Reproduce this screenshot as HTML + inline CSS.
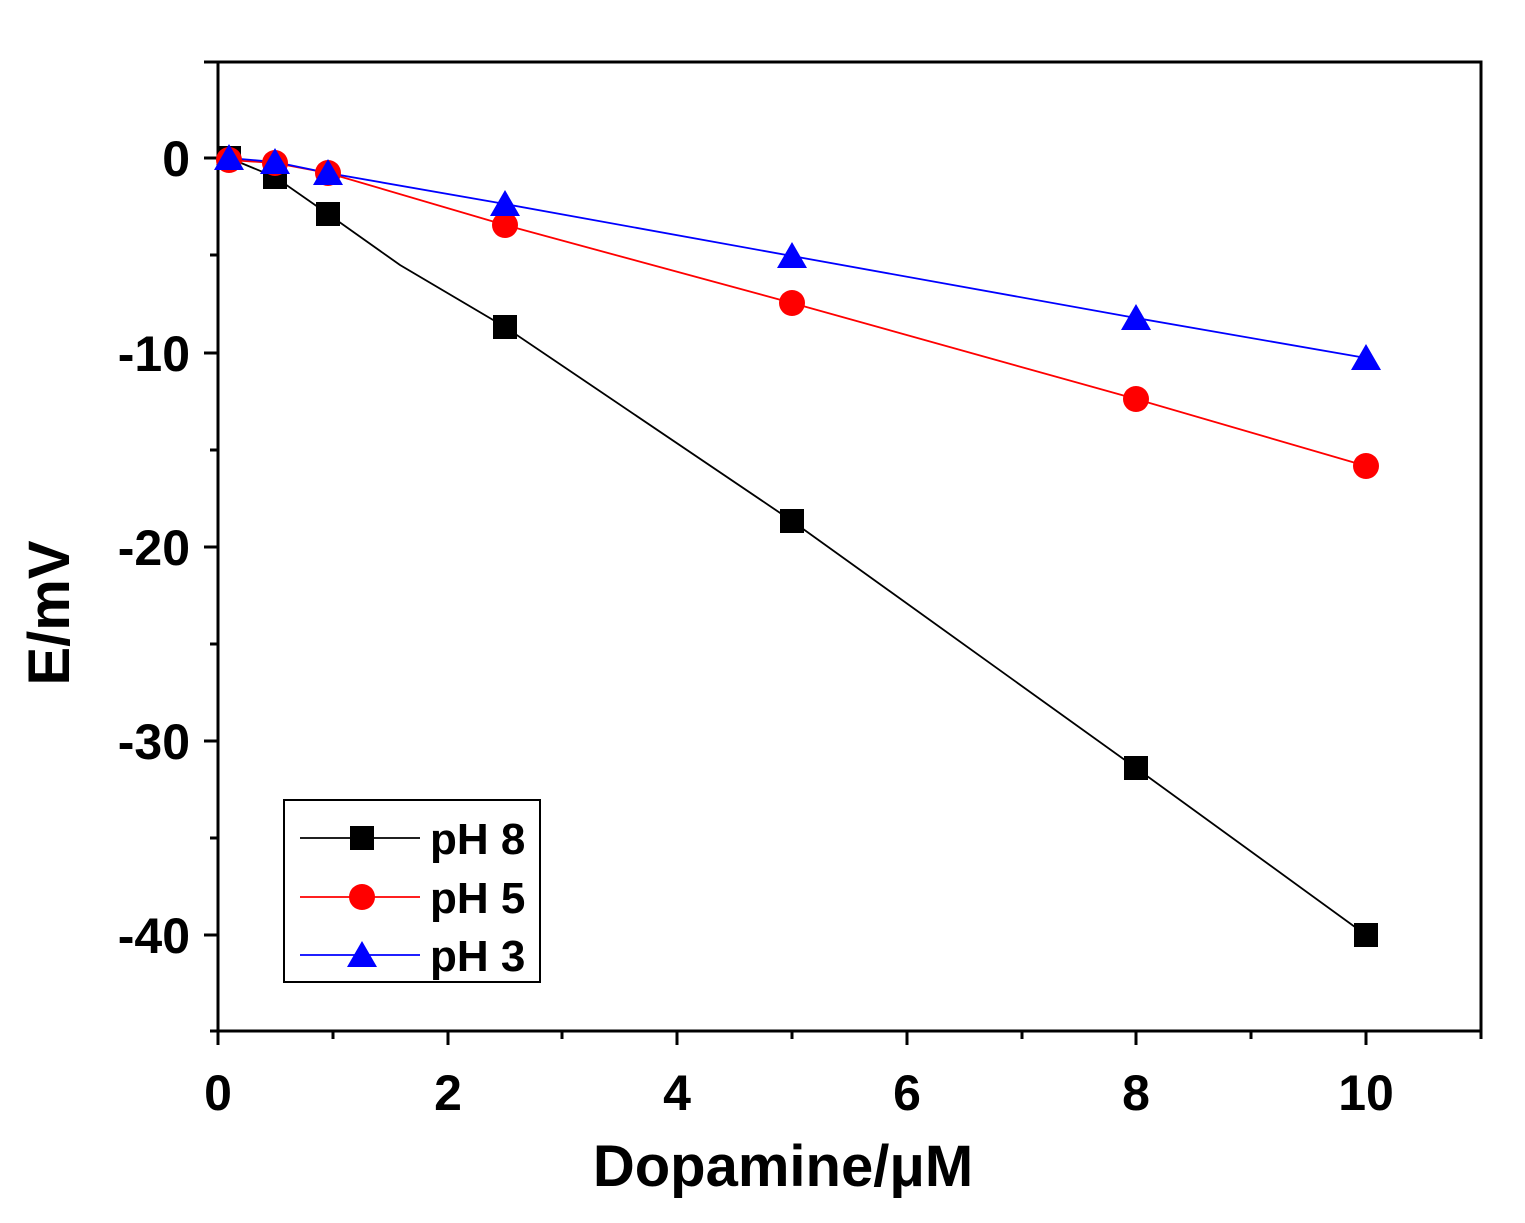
<!DOCTYPE html>
<html><head><style>body{margin:0;background:#fff}</style></head><body>
<svg width="1525" height="1218" xmlns="http://www.w3.org/2000/svg" font-family="Liberation Sans, sans-serif" font-weight="bold">
<rect width="1525" height="1218" fill="#fff"/>
<rect x="218" y="62" width="1263" height="969" fill="none" stroke="#000" stroke-width="3"/>
<g stroke="#000" stroke-width="3">
<line x1="218" y1="1031" x2="218" y2="1045"/><line x1="333" y1="1031" x2="333" y2="1039"/>
<line x1="448" y1="1031" x2="448" y2="1045"/><line x1="562" y1="1031" x2="562" y2="1039"/>
<line x1="677" y1="1031" x2="677" y2="1045"/><line x1="792" y1="1031" x2="792" y2="1039"/>
<line x1="907" y1="1031" x2="907" y2="1045"/><line x1="1022" y1="1031" x2="1022" y2="1039"/>
<line x1="1136" y1="1031" x2="1136" y2="1045"/><line x1="1251" y1="1031" x2="1251" y2="1039"/>
<line x1="1366" y1="1031" x2="1366" y2="1045"/><line x1="1481" y1="1031" x2="1481" y2="1039"/>
<line x1="204" y1="62" x2="218" y2="62"/>
<line x1="204" y1="158" x2="218" y2="158"/><line x1="210" y1="255" x2="218" y2="255"/>
<line x1="204" y1="353" x2="218" y2="353"/><line x1="210" y1="450" x2="218" y2="450"/>
<line x1="204" y1="547" x2="218" y2="547"/><line x1="210" y1="644" x2="218" y2="644"/>
<line x1="204" y1="741" x2="218" y2="741"/><line x1="210" y1="838" x2="218" y2="838"/>
<line x1="204" y1="935" x2="218" y2="935"/><line x1="210" y1="1031" x2="218" y2="1031"/>
</g>
<g font-size="50" text-anchor="middle">
<text x="218" y="1110">0</text><text x="448" y="1110">2</text><text x="677" y="1110">4</text>
<text x="907" y="1110">6</text><text x="1136" y="1110">8</text><text x="1366" y="1110">10</text>
</g>
<g font-size="50" text-anchor="end">
<text x="190" y="176">0</text><text x="190" y="371">-10</text><text x="190" y="565">-20</text>
<text x="190" y="759">-30</text><text x="190" y="953">-40</text>
</g>
<text x="783" y="1186" font-size="58" text-anchor="middle">Dopamine/μM</text>
<text transform="translate(69,613) rotate(-90)" font-size="58" text-anchor="middle">E/mV</text>
<polyline fill="none" stroke="#000" stroke-width="1.8" points="229,158 275,177 328,214 400,265 505,327 792,521 1136,768 1366,935"/>
<polyline fill="none" stroke="#f00" stroke-width="1.8" points="229,160 275,163 328,173 505,225 792,303 1136,399 1366,466"/>
<polyline fill="none" stroke="#00f" stroke-width="1.8" points="229,158 275,162 328,173 505,204 792,256 1136,318 1366,358"/>
<g fill="#000">
<rect x="217" y="146" width="24" height="24"/><rect x="263" y="165" width="24" height="24"/>
<rect x="316" y="202" width="24" height="24"/><rect x="493" y="315" width="24" height="24"/>
<rect x="780" y="509" width="24" height="24"/><rect x="1124" y="756" width="24" height="24"/>
<rect x="1354" y="923" width="24" height="24"/>
</g>
<g fill="#f00">
<circle cx="229" cy="160" r="13"/><circle cx="275" cy="163" r="13"/><circle cx="328" cy="173" r="13"/>
<circle cx="505" cy="225" r="13"/><circle cx="792" cy="303" r="13"/><circle cx="1136" cy="399" r="13"/>
<circle cx="1366" cy="466" r="13"/>
</g>
<g fill="#00f">
<polygon points="229,144 244,170 214,170"/><polygon points="275,148 290,174 260,174"/>
<polygon points="328,159 343,185 313,185"/><polygon points="505,190 520,216 490,216"/>
<polygon points="792,242 807,268 777,268"/><polygon points="1136,304 1151,330 1121,330"/>
<polygon points="1366,344 1381,370 1351,370"/>
</g>
<rect x="284" y="800" width="256" height="182" fill="#fff" stroke="#000" stroke-width="2"/>
<line x1="300" y1="838" x2="420" y2="838" stroke="#000" stroke-width="1.8"/>
<rect x="350" y="826" width="24" height="24" fill="#000"/>
<line x1="300" y1="897" x2="420" y2="897" stroke="#f00" stroke-width="1.8"/>
<circle cx="362" cy="897" r="13" fill="#f00"/>
<line x1="300" y1="955" x2="420" y2="955" stroke="#00f" stroke-width="1.8"/>
<polygon points="362,941 377,967 347,967" fill="#00f"/>
<g font-size="44">
<text x="430" y="854">pH 8</text><text x="430" y="913">pH 5</text><text x="430" y="971">pH 3</text>
</g>
</svg>
</body></html>
